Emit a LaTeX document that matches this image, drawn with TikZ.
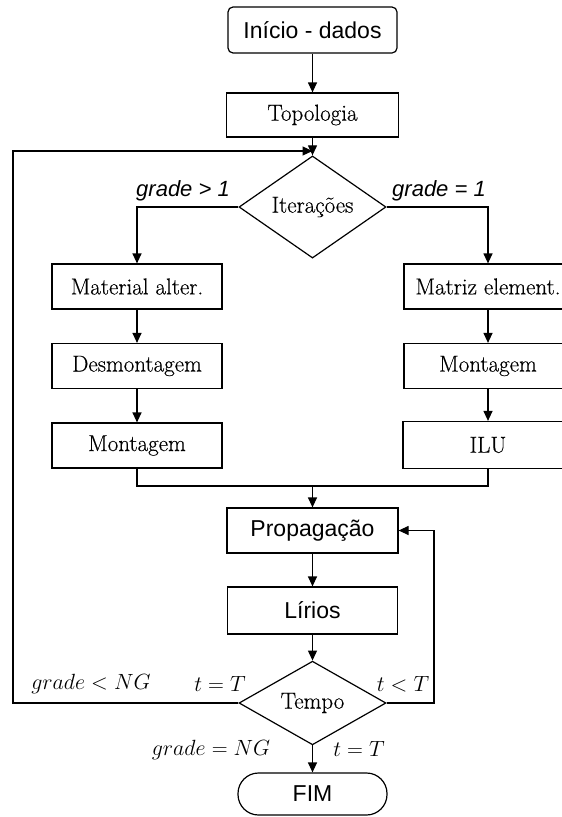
\RequirePackage{fix-cm}
\documentclass[tikz,border=0pt]{standalone}
\usepackage{fontspec}
\newfontfamily\arialf{Liberation Sans}
\newfontfamily\lmserif[FakeBold=0.4]{Latin Modern Roman}
\usetikzlibrary{arrows.meta,shapes.geometric}
\newcommand{\serifsz}{\lmserif\fontsize{23}{27}\selectfont}
\newcommand{\sanssz}{\arialf\fontsize{23}{27}\selectfont}
\newcommand{\labsz}{\fontsize{22}{26}\selectfont}
\newcommand{\slabsz}{\arialf\itshape\fontsize{22}{26}\selectfont}
\begin{document}
\begin{tikzpicture}[x=1pt,y=-1pt,line width=1.2pt,
  boxs/.style={draw,rectangle,minimum width=170pt,minimum height=45pt,inner sep=0pt,font=\serifsz},
  boxsans/.style={draw,rectangle,minimum width=171pt,minimum height=45pt,inner sep=0pt,font=\sanssz},
  decision/.style={draw,diamond,inner sep=0pt,minimum width=147pt,minimum height=68pt,font=\serifsz},
  arr/.style={-{Triangle[length=10pt,width=9pt]}},
  mlab/.style={inner sep=0pt,font=\labsz},
  slab/.style={inner sep=0pt,font=\slabsz}]
\clip (0,0) rectangle (562,817);
\fill[white] (0,0) rectangle (562,817);
% main column
\node[boxsans,rounded corners=5pt,minimum width=169pt,minimum height=46pt] (inicio) at (312.5,30) {Início - dados};
\node[boxs,minimum width=172pt,minimum height=44pt] (topo) at (312.5,115) {Topologia};
\node[decision,minimum height=67pt] (iter) at (312.5,207) {Iterações};
% left column
\node[boxs] (mat) at (137,286.5) {Material alter.};
\node[boxs] (desm) at (137,366) {Desmontagem};
\node[boxs] (mont1) at (137,445.5) {Montagem};
% right column
\node[boxs,minimum width=168pt] (matriz) at (488,286.5) {Matriz element.};
\node[boxs,minimum width=168pt] (mont2) at (488,366) {Montagem};
\node[boxs,minimum width=170pt,minimum height=47pt] (ilu) at (488,445) {ILU};
% lower part
\node[boxsans] (prop) at (312.5,530.5) {Propagação};
\node[boxsans,minimum width=170pt,minimum height=47pt] (lir) at (312.5,610.5) {Lírios};
\node[decision] (tempo) at (312.5,703) {Tempo};
\node[draw,rectangle,rounded corners=20.5pt,minimum width=149pt,minimum height=42pt,inner sep=0pt,font=\sanssz] (fim) at (312.5,794) {FIM};
% coordinates
\coordinate (mj) at (312.5,486);
\coordinate (jl) at (312.5,151);
\coordinate (lb) at (13,703);
\coordinate (rb) at (434,703);
% connectors
\draw[arr] (inicio) -- (topo);
\draw[arr] (topo) -- (iter);
\draw[arr] (iter.west) -| (mat.north);
\draw[arr] (iter.east) -| (matriz.north);
\draw[arr] (mat) -- (desm);
\draw[arr] (desm) -- (mont1);
\draw[arr] (matriz) -- (mont2);
\draw[arr] (mont2) -- (ilu);
\draw (mont1.south) |- (mj) -| (ilu.south);
\draw[arr] (mj) -- (prop);
\draw[arr] (prop) -- (lir);
\draw[arr] (lir) -- (tempo);
\draw[arr] (tempo) -- (fim);
\draw[arr] (tempo.west) -- (lb) |- (jl);
\draw[arr] (tempo.east) -- (rb) |- (prop.east);
% labels
\node[slab] (l1) at (183,191) {grade > 1};
\node[slab] (l2) at (439,191) {grade = 1};
\node[mlab] (l3) at (91,684) {$grade < NG$};
\node[mlab] (l4) at (220,684) {$t = T$};
\node[mlab] (l5) at (403,684) {$t < T$};
\node[mlab] (l6) at (211,750) {$grade = NG$};
\node[mlab] (l7) at (359,749) {$t = T$};
\end{tikzpicture}
\end{document}
